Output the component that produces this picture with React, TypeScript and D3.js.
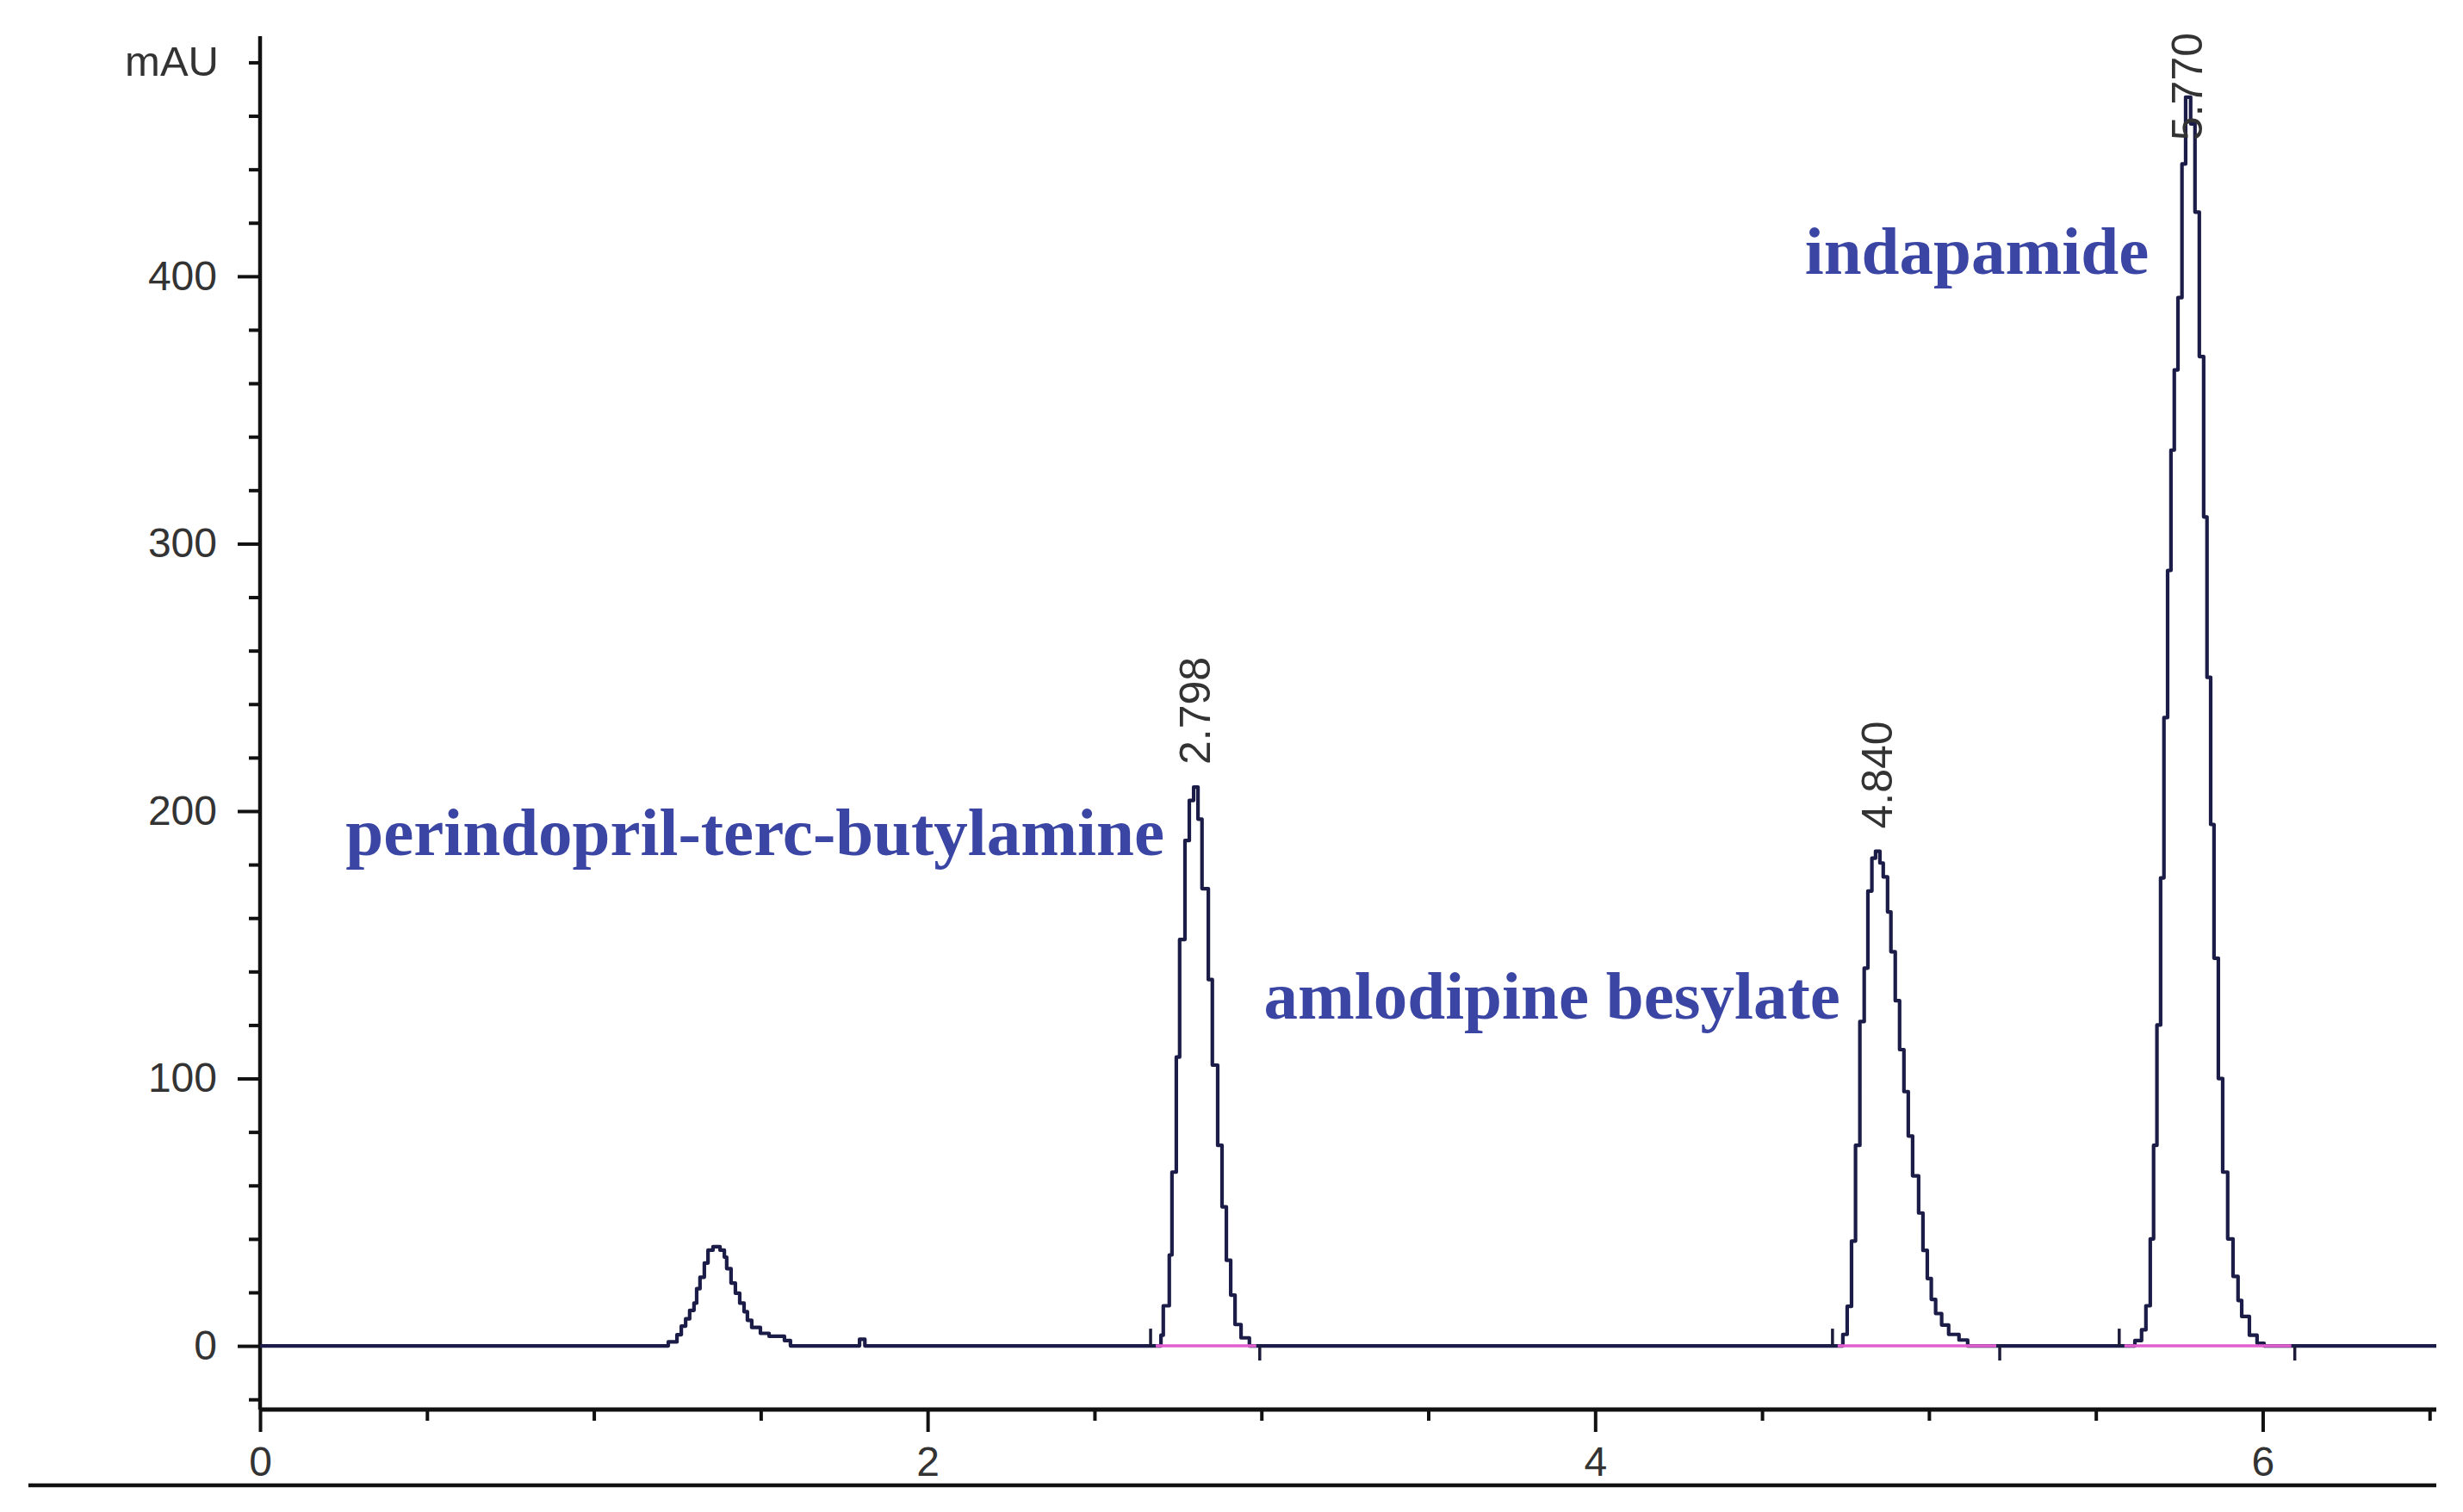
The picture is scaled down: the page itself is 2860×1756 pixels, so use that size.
import React, { useEffect, useRef } from 'react';
import * as d3 from 'd3';

const W = 2860;
const H = 1756;

// Axis ticks
const yMajorTicks = [0, 100, 200, 300, 400];
const yMinorTicks = [-20, 20, 40, 60, 80, 120, 140, 160, 180, 220, 240, 260, 280, 320, 340, 360, 380, 420, 440, 460, 480];
const xMajorTicks = [0, 2, 4, 6];
const xMinorTicks = [0.5, 1, 1.5, 2.5, 3, 3.5, 4.5, 5, 5.5, 6.5];
const yUnitLabel = 'mAU';

// Chromatogram trace segments: [retention time (min), absorbance (mAU)], step-after samples
const traceStart: [number, number][] = [[0, 0]];
const earlyPeakTrace: [number, number][] = [
  [1.223, 1.5], [1.249, 4.2], [1.262, 7.4], [1.275, 10.1], [1.287, 13.3], [1.3, 16.0],
  [1.308, 21.4], [1.318, 25.7], [1.331, 31.0], [1.342, 35.8], [1.357, 37.1], [1.378, 35.8],
  [1.391, 33.2], [1.398, 28.9], [1.411, 23.5], [1.424, 19.7], [1.437, 16.0], [1.45, 12.8],
  [1.46, 9.6], [1.473, 6.9], [1.499, 4.7], [1.525, 3.6], [1.571, 2.0], [1.589, 0],
];
const blipTrace: [number, number][] = [[1.796, 2.5], [1.812, 0]];
const perindoprilTrace: [number, number][] = [
  [2.699, 4], [2.706, 15], [2.724, 34], [2.732, 65], [2.745, 108], [2.755, 152], [2.771, 189],
  [2.784, 204], [2.797, 209], [2.81, 197], [2.822, 171], [2.841, 137], [2.853, 105], [2.869, 75],
  [2.882, 52], [2.895, 32], [2.908, 19], [2.921, 8], [2.939, 3], [2.964, 0],
];
const amlodipineTrace: [number, number][] = [
  [4.742, 4.3], [4.755, 14.8], [4.768, 39.2], [4.78, 75.0], [4.793, 121.3], [4.806, 141.3],
  [4.817, 170.1], [4.829, 182.4], [4.84, 185.0], [4.853, 180.6], [4.863, 175.4], [4.876, 162.3],
  [4.886, 147.4], [4.899, 129.1], [4.912, 110.8], [4.925, 95.1], [4.938, 78.5], [4.951, 63.6],
  [4.969, 49.7], [4.982, 35.7], [4.995, 25.2], [5.007, 17.4], [5.02, 12.1], [5.038, 7.8],
  [5.059, 4.3], [5.09, 2.2], [5.116, 0],
];
const indapamideTrace: [number, number][] = [
  [5.617, 2], [5.637, 6], [5.65, 15], [5.663, 40], [5.673, 75], [5.683, 120], [5.694, 175],
  [5.704, 235], [5.715, 290], [5.725, 335], [5.735, 365], [5.746, 392], [5.758, 442], [5.769, 467],
  [5.784, 457], [5.797, 424], [5.81, 370], [5.823, 310], [5.833, 250], [5.844, 195], [5.854, 145],
  [5.867, 100], [5.88, 65], [5.895, 40], [5.911, 26], [5.926, 17], [5.937, 11], [5.96, 4],
  [5.983, 1], [6.004, 0],
];
const traceEnd: [number, number][] = [[6.52, 0]];

// Integrated peaks
const peakRetentionTimes = [2.798, 4.84, 5.77];
const peakRetentionLabels = ['2.798', '4.840', '5.770'];
const peakApexHeights = [209, 185, 467];
const integrationStarts = [2.668, 4.711, 5.57];
const integrationEnds = [2.995, 5.212, 6.096];

// Compound names
const compoundNames = ['perindopril-terc-butylamine', 'amlodipine besylate', 'indapamide'];

export default function App() {
  const ref = useRef<SVGSVGElement>(null);

  useEffect(() => {
    const svg = d3.select(ref.current);
    svg.selectAll('*').remove();

    const x = d3.scaleLinear().domain([0, 6.52]).range([302, 2829]);
    const y = d3.scaleLinear().domain([-23.8, 489.8]).range([1637, 42]);

    const tickFont = "'Liberation Sans', Arial, sans-serif";
    const tickColor = '#333333';

    svg.append('rect').attr('width', W).attr('height', H).attr('fill', '#ffffff');

    // bottom frame line
    svg.append('line')
      .attr('x1', 33).attr('x2', 2829).attr('y1', 1725).attr('y2', 1725)
      .attr('stroke', '#111').attr('stroke-width', 4.5);

    // Y axis
    const gYMinor = svg.append('g').attr('transform', `translate(${x(0)},0)`)
      .call(d3.axisLeft(y).tickValues(yMinorTicks).tickSize(13).tickFormat(() => ''));
    const gYMajor = svg.append('g').attr('transform', `translate(${x(0)},0)`)
      .call(d3.axisLeft(y).tickValues(yMajorTicks).tickSize(26).tickPadding(24).tickFormat(d3.format('d')));
    [gYMinor, gYMajor].forEach((g) => {
      g.select('.domain').remove();
      g.selectAll('line').attr('stroke', '#111').attr('stroke-width', 4);
      g.selectAll('text')
        .attr('font-family', tickFont).attr('font-size', 48).attr('fill', tickColor);
    });

    svg.append('text')
      .attr('x', x(0) - 48).attr('y', y(480)).attr('dy', '0.32em')
      .attr('text-anchor', 'end').attr('font-family', tickFont).attr('font-size', 49)
      .attr('fill', tickColor).text(yUnitLabel);

    svg.append('line')
      .attr('x1', x(0)).attr('x2', x(0)).attr('y1', y(489.8)).attr('y2', y(-23.8))
      .attr('stroke', '#111').attr('stroke-width', 4.5);

    // X axis
    const gXMinor = svg.append('g').attr('transform', `translate(0,${y(-23.8)})`)
      .call(d3.axisBottom(x).tickValues(xMinorTicks).tickSize(13).tickFormat(() => ''));
    const gXMajor = svg.append('g').attr('transform', `translate(0,${y(-23.8)})`)
      .call(d3.axisBottom(x).tickValues(xMajorTicks).tickSize(26).tickPadding(17).tickFormat(d3.format('d')));
    [gXMinor, gXMajor].forEach((g) => {
      g.select('.domain').remove();
      g.selectAll('line').attr('stroke', '#111').attr('stroke-width', 4);
      g.selectAll('text')
        .attr('font-family', tickFont).attr('font-size', 48).attr('fill', tickColor);
    });
    svg.append('line')
      .attr('x1', x(0)).attr('x2', x(6.52)).attr('y1', y(-23.8)).attr('y2', y(-23.8))
      .attr('stroke', '#111').attr('stroke-width', 5);

    // Chromatogram trace
    const trace = [
      ...traceStart, ...earlyPeakTrace, ...blipTrace, ...perindoprilTrace,
      ...amlodipineTrace, ...indapamideTrace, ...traceEnd,
    ];
    const line = d3.line<[number, number]>()
      .x((d) => x(d[0])).y((d) => y(d[1]))
      .curve(d3.curveStepAfter);
    svg.append('path')
      .attr('d', line(trace) as string)
      .attr('fill', 'none').attr('stroke', '#1c1c48').attr('stroke-width', 4.2)
      .attr('stroke-linejoin', 'round');

    // integration baselines and start/end markers
    integrationStarts.forEach((s, i) => {
      const e = integrationEnds[i];
      svg.append('line')
        .attr('x1', x(s) + 6).attr('x2', x(e) - 4).attr('y1', y(0)).attr('y2', y(0))
        .attr('stroke', '#e35fd0').attr('stroke-width', 3.5);
      svg.append('line')
        .attr('x1', x(s)).attr('x2', x(s)).attr('y1', y(0)).attr('y2', y(0) - 20)
        .attr('stroke', '#1c1c3a').attr('stroke-width', 3.5);
      svg.append('line')
        .attr('x1', x(e)).attr('x2', x(e)).attr('y1', y(0)).attr('y2', y(0) + 17)
        .attr('stroke', '#1c1c3a').attr('stroke-width', 3.5);
    });

    // retention time labels (rotated)
    peakRetentionTimes.forEach((t, i) => {
      const tx = svg.append('text')
        .attr('font-family', tickFont).attr('font-size', 50).attr('fill', tickColor)
        .attr('dy', '0.36em').attr('text-anchor', 'start')
        .text(peakRetentionLabels[i]);
      const len = (tx.node() as SVGTextElement).getComputedTextLength();
      const bottom = Math.max(y(peakApexHeights[i]) - 26, 38 + len);
      tx.attr('transform', `translate(${x(t) + 1},${bottom}) rotate(-90)`);
    });

    // compound names
    const nameAnchors: [number, number][] = [[0.256, 183.5], [3.007, 122.4], [4.628, 400.9]];
    compoundNames.forEach((n, i) => {
      svg.append('text')
        .attr('x', x(nameAnchors[i][0])).attr('y', y(nameAnchors[i][1]))
        .attr('font-family', "'Liberation Serif', 'Times New Roman', serif")
        .attr('font-weight', 'bold').attr('font-size', 79).attr('fill', '#3a45a4')
        .text(n);
    });
  }, []);

  return (
    <svg
      ref={ref}
      width={W}
      height={H}
      style={{ position: 'absolute', left: 0, top: 0, display: 'block', background: '#fff' }}
    />
  );
}
